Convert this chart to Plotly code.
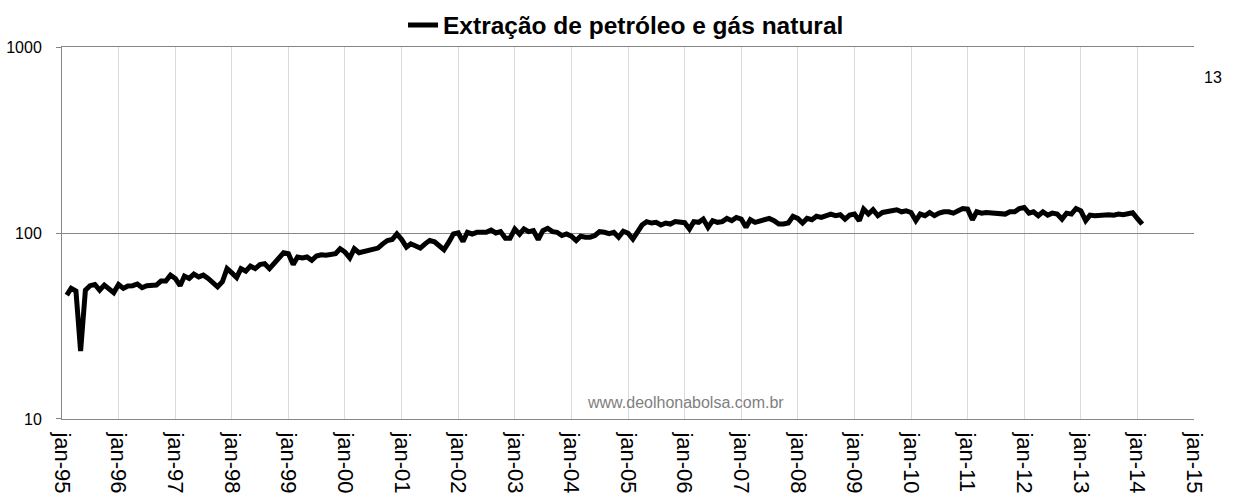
import pandas as pd
import plotly.graph_objects as go

# Monthly index values, Feb-1995 .. Feb-2014
v1995 = [46.5, 50.5, 48.9, 23.2, 49.4, 52.2, 53, 49.4, 52.6, 50, 47.9]
v1996 = [53, 50.5, 52, 52.2, 53.3, 50.9, 52.2, 52.6, 52.6, 55.3, 55.3, 59.5]
v1997 = [57.1, 52.2, 58.8, 57.1, 60.2, 58.2, 59.5, 57.1, 53.7, 51.5, 54.8, 64.5]
v1998 = [61.2, 57.8, 64.5, 62.5, 66.5, 64.5, 67.8, 68.6, 64.5, 68.6, 72.4, 78.5]
v1999 = [77.6, 67.8, 74.5, 73.6, 74.5, 71.5, 75.4, 76.6, 76.1, 76.6, 77.6, 82.5]
v2000 = [79.2, 73.6, 82.5, 78.5, 79.9, 80.8, 81.8, 83.2, 87.7, 91.4, 92.5, 99.1]
v2001 = [92.5, 84.2, 87.7, 86, 83.2, 87.7, 91.4, 90, 86, 81.5, 89.5, 99.1]
v2002 = [100.4, 90.3, 101.2, 99.1, 101.2, 101.2, 101.2, 104.1, 100.4, 102, 94, 94]
v2003 = [105.4, 98.8, 105.4, 102, 103.3, 92.5, 103.3, 106.3, 102, 101.2, 97.2, 99.1]
v2004 = [96.4, 91.4, 96.4, 95.2, 95.2, 97.2, 102, 101.2, 99.6, 101.2, 95.2, 102.5]
v2005 = [100, 93, 101.2, 110.7, 115.5, 113.5, 114.5, 110.7, 113.5, 112.1, 115.5, 114.5]
v2006 = [114, 105.4, 115.5, 114.5, 119.2, 107.6, 116.9, 114.5, 115.5, 120.2, 116.9, 121.7]
v2007 = [119.2, 107.6, 118.3, 114.5, 116.9, 118.3, 120.2, 116.9, 112.1, 112.1, 113.5, 123.2]
v2008 = [120.2, 113.5, 120.2, 118.3, 123.5, 121.7, 125.2, 126.8, 124.3, 125.8, 119.2, 125.2]
v2009 = [126.8, 116.9, 134.8, 126.8, 133.8, 124.3, 129.4, 130.5, 132.1, 133.8, 130.5, 132.1]
v2010 = [129.4, 116.9, 126.8, 124.3, 129.4, 124.3, 128.3, 130.5, 130.5, 128.3, 132.1, 135.9]
v2011 = [134.8, 118.3, 130.5, 128.3, 129.4, 128.3, 128.3, 126.8, 126.8, 130.5, 130.5, 135.9]
v2012 = [137.6, 128.3, 130.5, 124.3, 130.5, 125.2, 128.3, 126.8, 119.2, 128.3, 126.8, 135.9]
v2013 = [132.1, 116.9, 125.2, 124.3, 125.2, 124.3, 125.8, 125.2, 126.8, 125.8, 127.5, 129]
v2014 = [120, 112]

values = (v1995 + v1996 + v1997 + v1998 + v1999 + v2000 + v2001 + v2002 + v2003
          + v2004 + v2005 + v2006 + v2007 + v2008 + v2009 + v2010 + v2011 + v2012
          + v2013 + v2014)
dates = pd.date_range("1995-02-01", periods=len(values), freq="MS")

tick_years = list(range(1995, 2016))
tick_vals = [f"{y}-01-01" for y in tick_years]
tick_text = [f"jan-{str(y)[2:]}" for y in tick_years]

y_ticks = [10, 100, 1000]
y_text = ["10", "100", "1000"]

series_name = "Extração de petróleo e gás natural"
FONT = "Liberation Sans, Arial, sans-serif"

fig = go.Figure()
fig.add_trace(go.Scatter(
    x=dates, y=values, mode="lines", name=f"<b>{series_name}</b>",
    line=dict(color="black", width=5), showlegend=True,
))

fig.update_layout(
    width=1234, height=497,
    margin=dict(l=62, r=40, t=44, b=78),
    paper_bgcolor="white", plot_bgcolor="white",
    font=dict(family=FONT, color="black"),
    showlegend=True,
    legend=dict(orientation="h", xref="container", yref="container",
                x=0.3266, xanchor="left", y=0.9497, yanchor="middle",
                font=dict(size=24.5, family=FONT, color="black"),
                bgcolor="rgba(0,0,0,0)", itemwidth=30),
    xaxis=dict(type="date", range=["1995-01-01", "2015-01-01"],
               tickmode="array", tickvals=tick_vals, ticktext=tick_text,
               tickangle=90, tickfont=dict(size=22, family=FONT),
               ticklabelstandoff=8,
               showgrid=True, gridcolor="#d9d9d9", gridwidth=1,
               showline=True, linecolor="#868686", linewidth=1, mirror=True,
               ticks="", zeroline=False, automargin=False),
    yaxis=dict(type="log", range=[1, 3], tickmode="array",
               tickvals=y_ticks, ticktext=y_text, tickfont=dict(size=16, family=FONT),
               showgrid=True, gridcolor="#868686", gridwidth=1,
               showline=True, linecolor="#868686", linewidth=1,
               ticks="outside", ticklen=5, tickcolor="#868686",
               ticklabelstandoff=11, zeroline=False, automargin=False),
    annotations=[
        dict(text="www.deolhonabolsa.com.br", xref="paper", yref="paper",
             x=0.551, y=0.045, xanchor="center", yanchor="middle", showarrow=False,
             font=dict(size=16, family=FONT, color="#7f7f7f")),
        dict(text="13", xref="paper", yref="paper", x=1.017, y=0.92,
             xanchor="center", yanchor="middle", showarrow=False,
             font=dict(size=16, family=FONT, color="black")),
    ],
)

fig.write_html("out.html", config={"displayModeBar": False},
               post_script="document.body.style.margin='0';")
